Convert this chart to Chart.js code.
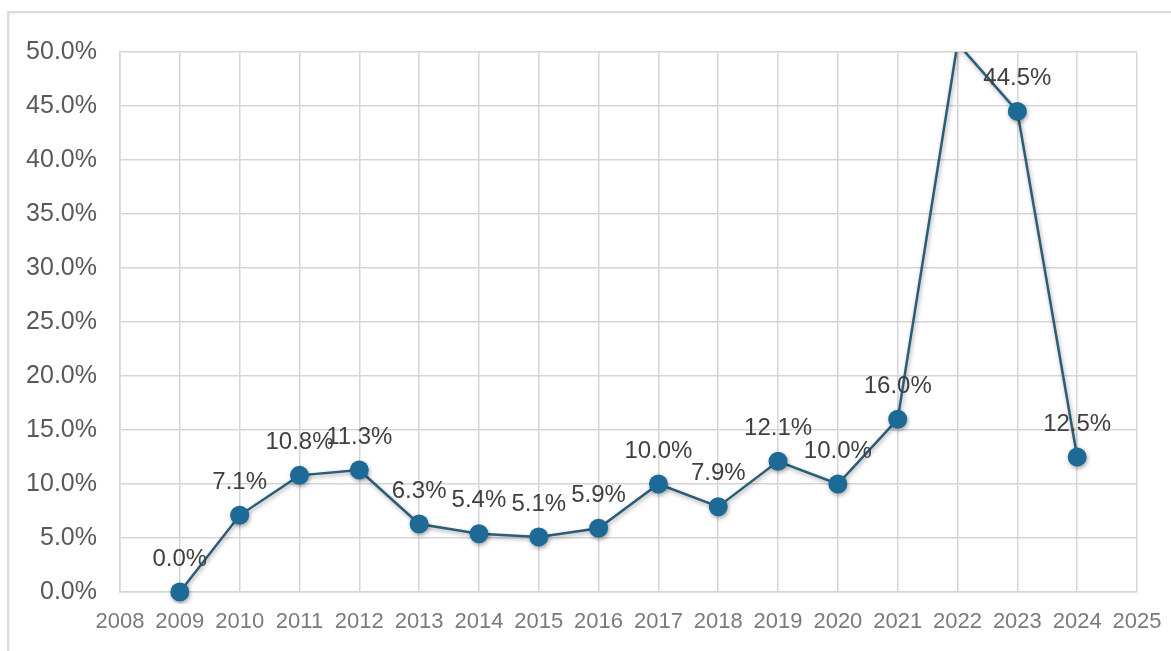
<!DOCTYPE html>
<html lang="en">
<head>
    <meta charset="UTF-8">
    <title>Growth rate 2009-2024</title>
    <script src="https://cdn.jsdelivr.net/npm/chart.js"></script>
    <style>
        html, body {
            margin: 0;
            padding: 0;
            background: #ffffff;
            overflow: hidden;
        }
        .frame {
            position: absolute;
            left: 7px;
            top: 11px;
            width: 1200px;
            height: 700px;
            border-top: 2px solid #dcdcdc;
            border-left: 2px solid #dcdcdc;
            box-shadow: inset 1px 1px 2px rgba(0,0,0,0.06);
        }
        #chartBox {
            position: absolute;
            left: 0;
            top: 0;
            width: 1171px;
            height: 651px;
        }
    </style>
</head>
<body>
    <div class="frame"></div>
    <div id="chartBox"><canvas id="growthChart"></canvas></div>

    <script>
        // data
        const years = [2009, 2010, 2011, 2012, 2013, 2014, 2015, 2016, 2017, 2018, 2019, 2020, 2021, 2022, 2023, 2024];
        const growth = [0.0, 7.1, 10.8, 11.3, 6.3, 5.4, 5.1, 5.9, 10.0, 7.9, 12.1, 10.0, 16.0, 50.8, 44.5, 12.5];

        const X_MIN = 2008, X_MAX = 2025;
        const Y_MIN = 0, Y_MAX = 50, Y_STEP = 5;

        const points = years.map((yr, i) => ({ x: yr, y: growth[i] }));

        // value labels above each marker (skipped when the point is off the scale)
        const valueLabels = {
            id: 'valueLabels',
            afterDatasetsDraw(chart) {
                const ctx = chart.ctx;
                const meta = chart.getDatasetMeta(0);
                ctx.save();
                ctx.font = '24px "Liberation Sans", Arial, sans-serif';
                ctx.fillStyle = '#404040';
                ctx.textAlign = 'center';
                ctx.textBaseline = 'middle';
                meta.data.forEach((pt, i) => {
                    if (growth[i] > Y_MAX) return;
                    ctx.fillText(growth[i].toFixed(1) + '%', pt.x, pt.y - 33);
                });
                ctx.restore();
            }
        };

        // soft shadow under the line and markers
        const markerShadow = {
            id: 'markerShadow',
            beforeDatasetsDraw(chart) {
                const ctx = chart.ctx;
                ctx.save();
                ctx.shadowColor = 'rgba(0, 0, 0, 0.35)';
                ctx.shadowBlur = 4;
                ctx.shadowOffsetX = 1;
                ctx.shadowOffsetY = 2;
            },
            afterDatasetsDraw(chart) {
                chart.ctx.restore();
            }
        };

        const gridColor = '#d6d6d6';

        new Chart(document.getElementById('growthChart'), {
            type: 'line',
            data: {
                datasets: [{
                    data: points,
                    borderColor: '#2b5d78',
                    borderWidth: 2.5,
                    backgroundColor: '#1d6a97',
                    pointBackgroundColor: '#1d6a97',
                    pointBorderColor: '#1d6a97',
                    pointBorderWidth: 0,
                    pointRadius: ctx => (ctx.raw && ctx.raw.y > Y_MAX ? 0 : 9.5),
                    pointHoverRadius: 9.5,
                    tension: 0,
                    fill: false,
                    clip: { left: 12, top: 0, right: 12, bottom: 12 }
                }]
            },
            options: {
                responsive: true,
                maintainAspectRatio: false,
                animation: false,
                layout: {
                    padding: { left: 0, top: 52, right: 34, bottom: 0 }
                },
                plugins: {
                    legend: { display: false },
                    tooltip: { enabled: false },
                    title: { display: false }
                },
                scales: {
                    x: {
                        type: 'linear',
                        min: X_MIN,
                        max: X_MAX,
                        afterFit: scale => {
                            scale.height = 59;
                            scale.paddingLeft = 0;
                            scale.paddingRight = 0;
                        },
                        grid: { color: gridColor, lineWidth: 1.5, drawTicks: false },
                        border: { color: gridColor, width: 1.5 },
                        ticks: {
                            stepSize: 1,
                            padding: 17,
                            color: '#7a7a7a',
                            maxRotation: 0,
                            autoSkip: false,
                            font: { family: '"Liberation Sans", Arial, sans-serif', size: 22 },
                            callback: v => String(v)
                        }
                    },
                    y: {
                        min: Y_MIN,
                        max: Y_MAX,
                        afterFit: scale => {
                            scale.width = 120;
                            scale.paddingTop = 0;
                            scale.paddingBottom = 0;
                        },
                        grid: { color: gridColor, lineWidth: 1.5, drawTicks: false },
                        border: { color: gridColor, width: 1.5 },
                        ticks: {
                            stepSize: Y_STEP,
                            padding: 23,
                            color: '#595959',
                            font: { family: '"Liberation Sans", Arial, sans-serif', size: 25 },
                            callback: v => v.toFixed(1) + '%'
                        }
                    }
                }
            },
            plugins: [markerShadow, valueLabels]
        });
    </script>
</body>
</html>
